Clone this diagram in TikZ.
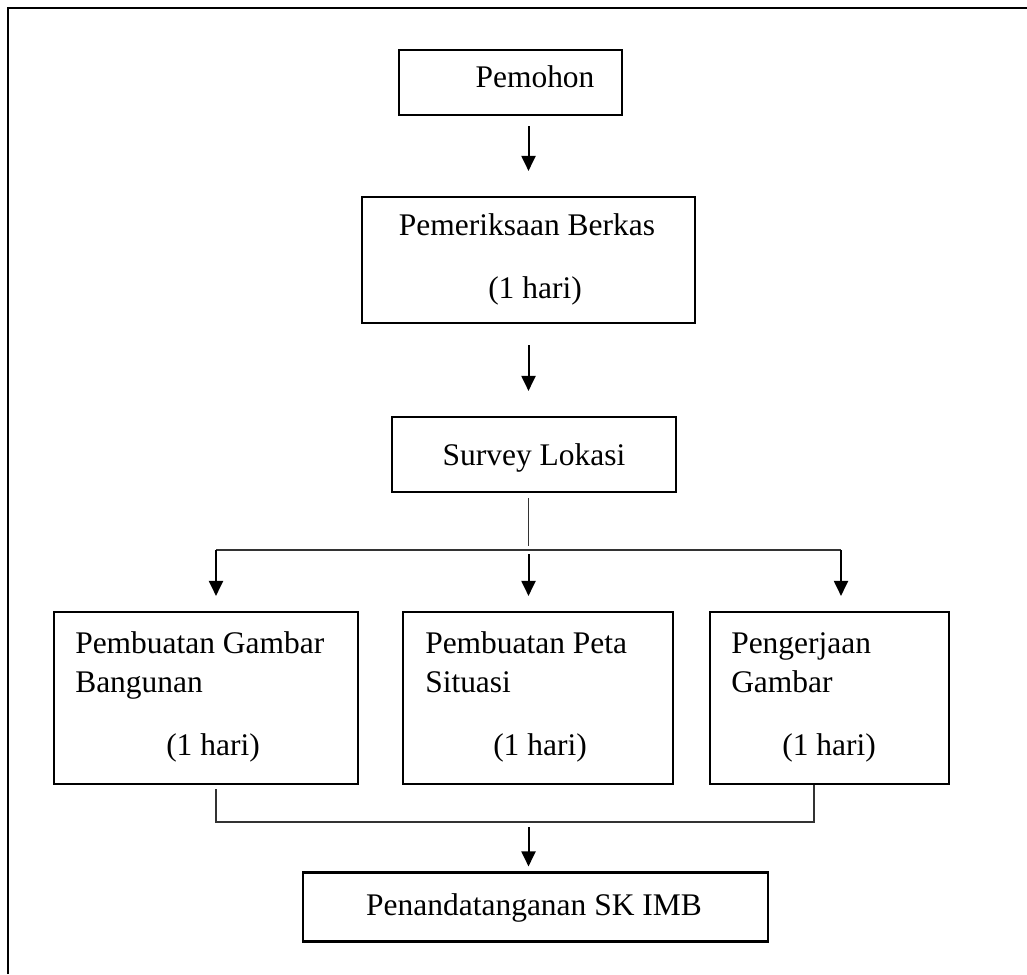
\documentclass[tikz,border=0pt]{standalone}
\usepackage{fontspec}
\setmainfont{Liberation Serif}
\usetikzlibrary{arrows.meta}
\begin{document}
\begin{tikzpicture}[x=0.75pt,y=-0.75pt]
\tikzstyle{kotak} = [draw,line width=1.6pt,inner sep=0pt] %kotak proses
\tikzstyle{teks} = [inner sep=0pt,font=\fontsize{23.6}{28}\selectfont]
\tikzstyle{panah} = [line width=1.5pt,-{Triangle[length=11.25pt,width=10.5pt]}]
\tikzstyle{garis} = [line width=0.8pt,color=black!80]
\useasboundingbox (0,0) rectangle (1027,974);
%bingkai
\draw[line width=1.3pt] (8,974) -- (8,8) -- (1027,8);
%kotak-kotak
\node[kotak,minimum width=167.25pt,minimum height=48.75pt] (pemohon) at (510.5,82.5) {};
\node[kotak,minimum width=249.75pt,minimum height=94.5pt] (periksa) at (528.5,260) {};
\node[kotak,minimum width=213pt,minimum height=56.25pt] (survey) at (534,454.5) {};
\node[kotak,minimum width=228pt,minimum height=129pt] (gambar) at (206,698) {};
\node[kotak,minimum width=202.5pt,minimum height=129pt] (peta) at (538,698) {};
\node[kotak,minimum width=179.25pt,minimum height=129pt] (kerja) at (829.5,698) {};
\node[kotak,minimum width=348.75pt,minimum height=51.75pt] (sk) at (535.5,907) {};
%teks
\node[teks,anchor=base] (t-pemohon) at (535,88) {Pemohon};
\node[teks,anchor=base] (t-periksa) at (527,235) {Pemeriksaan Berkas};
\node[teks,anchor=base] (h-periksa) at (535,298) {(1 hari)};
\node[teks,anchor=base] (t-survey) at (534,465) {Survey Lokasi};
\node[teks,anchor=base west] (t-gambar) at (75,653) {Pembuatan Gambar};
\node[teks,anchor=base west] (t2-gambar) at (75,692) {Bangunan};
\node[teks,anchor=base] (h-gambar) at (213,755) {(1 hari)};
\node[teks,anchor=base west] (t-peta) at (425,653) {Pembuatan Peta};
\node[teks,anchor=base west] (t2-peta) at (425,692) {Situasi};
\node[teks,anchor=base] (h-peta) at (540,755) {(1 hari)};
\node[teks,anchor=base west] (t-kerja) at (731,653) {Pengerjaan};
\node[teks,anchor=base west] (t2-kerja) at (731,692) {Gambar};
\node[teks,anchor=base] (h-kerja) at (829,755) {(1 hari)};
\node[teks,anchor=base] (t-sk) at (534,915) {Penandatanganan SK IMB};
%panah atas
\draw[panah,shorten <=7.5pt,shorten >=18.75pt] (pemohon.south -| periksa.north) -- (periksa.north);
\draw[panah,shorten <=15.75pt,shorten >=18.75pt] (periksa.south) -- (periksa.south |- survey.north);
%cabang
\coordinate (cabang) at (528.5,550);
\coordinate (cabangL) at (216,550);
\coordinate (cabangR) at (841,550);
\draw[garis,shorten <=3.75pt,shorten >=3pt] (survey.south -| cabang) -- (cabang);
\draw[garis] (cabangL) -- (cabangR);
\draw[panah,shorten >=11.25pt] (cabangL) -- (cabangL |- gambar.north);
\draw[panah,shorten <=3pt,shorten >=11.25pt] (cabang) -- (cabang |- peta.north);
\draw[panah,shorten >=11.25pt] (cabangR) -- (cabangR |- kerja.north);
%gabung
\coordinate (gabungL) at (216,822);
\coordinate (gabungR) at (814,822);
\draw[garis] ([yshift=-3pt]gabungL |- gambar.south) -- (gabungL) -- (gabungR) -- (gabungR |- kerja.south);
\draw[panah,shorten <=3.75pt,shorten >=3.75pt] (cabang |- gabungL) -- (cabang |- sk.north);
\end{tikzpicture}
\end{document}
